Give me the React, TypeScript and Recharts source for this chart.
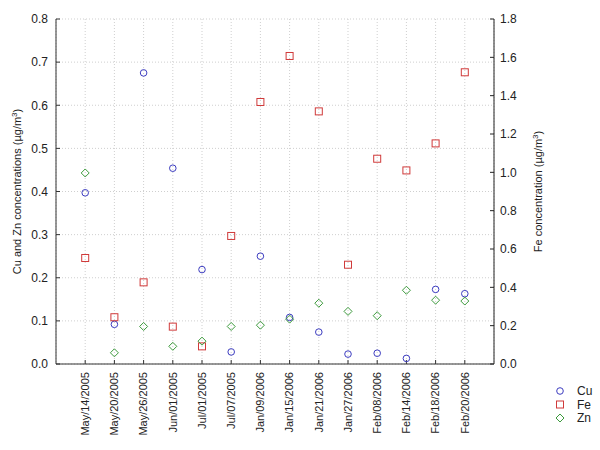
import { ScatterChart, Scatter, XAxis, YAxis, CartesianGrid, Legend } from 'recharts';

const dateLabels = [
  'May/14/2005', 'May/20/2005', 'May/26/2005', 'Jun/01/2005', 'Jul/01/2005', 'Jul/07/2005', 'Jan/09/2006',
  'Jan/15/2006', 'Jan/21/2006', 'Jan/27/2006', 'Feb/08/2006', 'Feb/14/2006', 'Feb/18/2006', 'Feb/20/2006',
];
const cuValues = [0.397, 0.092, 0.675, 0.454, 0.219, 0.028, 0.25, 0.108, 0.074, 0.023, 0.025, 0.013, 0.173, 0.163];
const feValues = [0.553, 0.244, 0.426, 0.195, 0.092, 0.668, 1.367, 1.607, 1.318, 0.518, 1.071, 1.01, 1.151, 1.522];
const znValues = [0.443, 0.026, 0.087, 0.041, 0.053, 0.087, 0.09, 0.104, 0.141, 0.122, 0.112, 0.171, 0.148, 0.146];
const leftTicks = [0, 0.1, 0.2, 0.3, 0.4, 0.5, 0.6, 0.7, 0.8];
const rightTicks = [0, 0.2, 0.4, 0.6, 0.8, 1.0, 1.2, 1.4, 1.6, 1.8];
const xTicks = dateLabels.map((_, i) => i + 1);

const toPoints = (vals: number[]) => vals.map((y, i) => ({ x: i + 1, y }));

const CU = '#3c3cc0';
const FE = '#d03a3a';
const ZN = '#3c9a3c';
const FONT = '"Liberation Sans", Arial, sans-serif';

const CircleMark = (p: any) => <circle cx={p.cx} cy={p.cy} r={3.3} fill="none" stroke={CU} strokeWidth={1} />;
const SquareMark = (p: any) => <rect x={p.cx - 3.5} y={p.cy - 3.5} width={7} height={7} fill="none" stroke={FE} strokeWidth={1} />;
const DiamondMark = (p: any) => (
  <polygon
    points={`${p.cx},${p.cy - 4} ${p.cx + 4},${p.cy} ${p.cx},${p.cy + 4} ${p.cx - 4},${p.cy}`}
    fill="none"
    stroke={ZN}
    strokeWidth={1}
  />
);

const DateTick = ({ x, y, payload }: any) => (
  <text x={x} y={y} transform={`rotate(-90, ${x}, ${y})`} textAnchor="end" dy="0.35em" fontSize={11} fill="#222" fontFamily={FONT}>
    {dateLabels[payload.value - 1]}
  </text>
);

const LeftLabel = ({ viewBox }: any) => {
  const x = viewBox.x + 21;
  const y = viewBox.y + viewBox.height / 2;
  return (
    <text x={x} y={y} transform={`rotate(-90, ${x}, ${y})`} textAnchor="middle" fontSize={11} fill="#222" fontFamily={FONT}>
      Cu and Zn concentrations (µg/m<tspan baselineShift="super" fontSize={8}>3</tspan>)
    </text>
  );
};

const RightLabel = ({ viewBox }: any) => {
  const x = viewBox.x + 48;
  const y = viewBox.y + viewBox.height / 2;
  return (
    <text x={x} y={y} transform={`rotate(-90, ${x}, ${y})`} textAnchor="middle" fontSize={11} fill="#222" fontFamily={FONT}>
      Fe concentration (µg/m<tspan baselineShift="super" fontSize={8}>3</tspan>)
    </text>
  );
};

const legendItems = [
  { name: 'Cu', Mark: CircleMark },
  { name: 'Fe', Mark: SquareMark },
  { name: 'Zn', Mark: DiamondMark },
];

const LegendBox = () => (
  <svg width={50} height={44}>
    {legendItems.map((it, i) => (
      <g key={it.name}>
        <it.Mark cx={7} cy={6 + i * 13.5} />
        <text x={24} y={10 + i * 13.5} fontSize={12} fill="#222" fontFamily={FONT}>
          {it.name}
        </text>
      </g>
    ))}
  </svg>
);

export default function App() {
  return (
    <div style={{ position: 'absolute', left: 0, top: 0, background: '#fff' }}>
      <ScatterChart width={600} height={450} margin={{ top: 19, right: 0, bottom: 0, left: 0 }} style={{ fontFamily: FONT }}>
        <CartesianGrid yAxisId="left" stroke="#cfcfcf" strokeDasharray="1 2" />
        <XAxis
          type="number"
          dataKey="x"
          domain={[0, 15]}
          ticks={xTicks}
          allowDataOverflow
          height={86}
          tick={<DateTick />}
          tickSize={-4}
          tickMargin={12}
          stroke="#333"
        />
        <XAxis
          xAxisId="top"
          orientation="top"
          type="number"
          domain={[0, 15]}
          ticks={xTicks}
          allowDataOverflow
          height={0}
          tick={false}
          tickSize={-4}
          stroke="#666"
        />
        <YAxis
          yAxisId="left"
          type="number"
          dataKey="y"
          domain={[0, 0.8]}
          ticks={leftTicks}
          allowDataOverflow
          width={56}
          tickSize={-4}
          tickMargin={12}
          tickFormatter={(v: number) => v.toFixed(1)}
          tick={{ fontSize: 12, fill: '#222' }}
          stroke="#333"
          label={{ content: <LeftLabel /> }}
        />
        <YAxis
          yAxisId="right"
          orientation="right"
          type="number"
          dataKey="y"
          domain={[0, 1.8]}
          ticks={rightTicks}
          allowDataOverflow
          width={106}
          tickSize={-4}
          tickMargin={10}
          tickFormatter={(v: number) => v.toFixed(1)}
          tick={{ fontSize: 12, fill: '#222' }}
          stroke="#222"
          label={{ content: <RightLabel /> }}
        />
        <Scatter name="Cu" yAxisId="left" data={toPoints(cuValues)} shape={CircleMark} isAnimationActive={false} />
        <Scatter name="Fe" yAxisId="right" data={toPoints(feValues)} shape={SquareMark} isAnimationActive={false} />
        <Scatter name="Zn" yAxisId="left" data={toPoints(znValues)} shape={DiamondMark} isAnimationActive={false} />
        <Legend
          layout="vertical"
          align="center"
          verticalAlign="middle"
          content={<LegendBox />}
          wrapperStyle={{ left: 553, top: 385, width: 50 }}
        />
      </ScatterChart>
    </div>
  );
}
